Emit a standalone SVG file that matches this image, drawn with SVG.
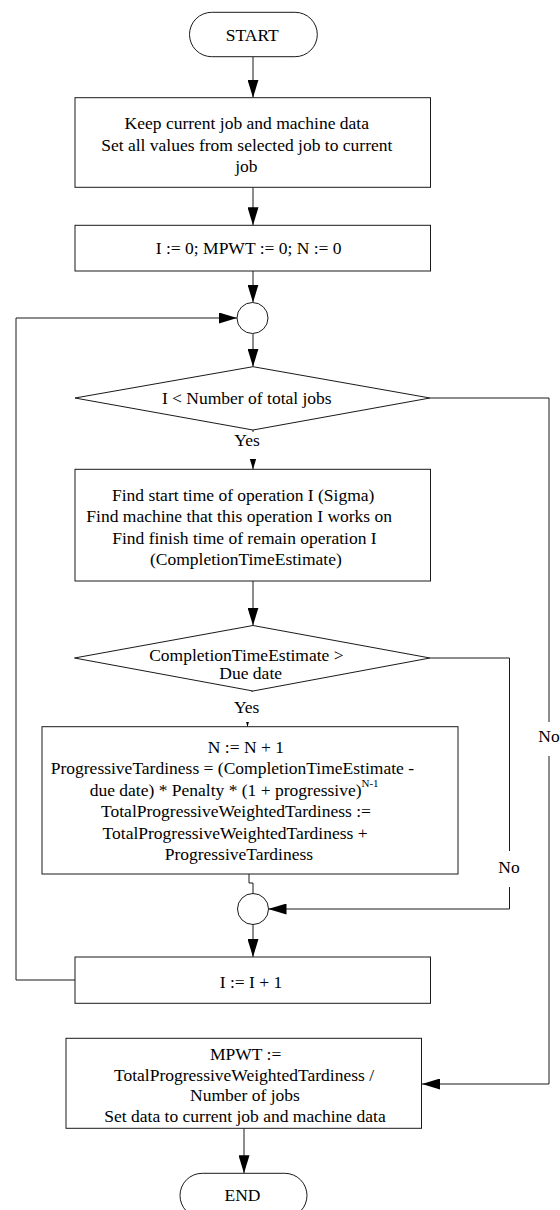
<svg xmlns="http://www.w3.org/2000/svg" width="560" height="1210" viewBox="0 0 560 1210">
<style>
.s{fill:#fff;stroke:#1a1a1a;stroke-width:1}
.c{fill:none;stroke:#1a1a1a;stroke-width:1}
.t{font-family:"Liberation Serif","Times New Roman",serif;font-size:17.5px;fill:#000;text-anchor:middle}
.ts{font-family:"Liberation Serif","Times New Roman",serif;font-size:17.5px;fill:#000}
.bg{fill:#fff;stroke:none}
</style>
<defs>
<marker id="arr" markerWidth="18" markerHeight="11" refX="18" refY="5.5" orient="auto" markerUnits="userSpaceOnUse">
<path d="M0,0 L18,5.5 L0,11 z" fill="#000"/>
</marker>
</defs>
<rect width="560" height="1210" fill="#fff"/>
<g id="connectors">
<path class="c" d="M253,56.7 V97.7" marker-end="url(#arr)"/>
<path class="c" d="M253,187.3 V225.3" marker-end="url(#arr)"/>
<path class="c" d="M253,271 V302.5" marker-end="url(#arr)"/>
<path class="c" d="M253,333.5 V366.7" marker-end="url(#arr)"/>
<path class="c" d="M253,430 V469.3" marker-end="url(#arr)"/>
<path class="c" d="M253,581 V625.5" marker-end="url(#arr)"/>
<path class="c" d="M252,691 V706 H247.5 V726.7" marker-end="url(#arr)"/>
<path class="c" d="M249,874 V883 H253 V893.5"/>
<path class="c" d="M253,924.5 V957" marker-end="url(#arr)"/>
<path class="c" d="M244,1128.3 V1173.3" marker-end="url(#arr)"/>
<path class="c" d="M430,398 H549 V1084 H422" marker-end="url(#arr)"/>
<path class="c" d="M430,658 H509.5 V909 H268.5" marker-end="url(#arr)"/>
<path class="c" d="M75,980 H16 V318 H237" marker-end="url(#arr)"/>
<rect class="bg" x="232" y="432" width="32" height="27"/>
<text class="t" x="247" y="446">Yes</text>
<rect class="bg" x="232" y="692" width="32" height="30"/>
<text class="t" x="246.7" y="712.5">Yes</text>
<rect class="bg" x="538" y="722" width="22" height="34"/>
<text class="t" x="549" y="742">No</text>
<rect class="bg" x="498" y="851" width="23" height="36"/>
<text class="t" x="509" y="873">No</text>
</g>
<g id="start">
<rect class="s" x="189.5" y="12.3" width="127.8" height="44.4" rx="22.2"/>
<text class="t" x="252.3" y="40.7">START</text>
</g>
<g id="keep">
<rect class="s" x="75" y="97.7" width="355.5" height="89.6"/>
<text class="t" x="246.8" y="129">Keep current job and machine data</text>
<text class="t" x="246.8" y="150.5">Set all values from selected job to current</text>
<text class="t" x="246.4" y="172">job</text>
</g>
<g id="init">
<rect class="s" x="75" y="225.3" width="355.5" height="45.7"/>
<text class="t" x="248.7" y="254">I := 0; MPWT := 0; N := 0</text>
</g>
<g id="merge1">
<circle class="s" cx="252.5" cy="318" r="15.5"/>
</g>
<g id="cond1">
<polygon class="s" points="253,366.7 430,398 253,430 75,398"/>
<text class="t" x="246.8" y="404">I &lt; Number of total jobs</text>
</g>
<g id="find">
<rect class="s" x="75" y="469.3" width="355.5" height="111.7"/>
<text class="t" x="243.2" y="500.5">Find start time of operation I (Sigma)</text>
<text class="t" x="239.2" y="522">Find machine that this operation I works on</text>
<text class="t" x="244.4" y="543.5">Find finish time of remain operation I</text>
<text class="t" x="245.9" y="565">(CompletionTimeEstimate)</text>
</g>
<g id="cond2">
<polygon class="s" points="253,625.5 430,658 253,691 74.5,658"/>
<text class="t" x="246.4" y="660.5">CompletionTimeEstimate &gt;</text>
<text class="t" x="250.7" y="679">Due date</text>
</g>
<g id="tardiness">
<rect class="s" x="42" y="726.7" width="416" height="147.3"/>
<text class="t" x="245.9" y="752.5">N := N + 1</text>
<text class="t" x="232.4" y="773.5">ProgressiveTardiness = (CompletionTimeEstimate -</text>
<text class="ts" x="89.7" y="795.5">due date) * Penalty * (1 + progressive)<tspan font-size="11px" dy="-9">N-1</tspan></text>
<text class="t" x="236" y="817">TotalProgressiveWeightedTardiness :=</text>
<text class="t" x="235.1" y="838.5">TotalProgressiveWeightedTardiness +</text>
<text class="t" x="238.9" y="860">ProgressiveTardiness</text>
</g>
<g id="merge2">
<circle class="s" cx="253" cy="909" r="15.5"/>
</g>
<g id="increment">
<rect class="s" x="75" y="957" width="355.5" height="46.3"/>
<text class="t" x="251" y="987.5">I := I + 1</text>
</g>
<g id="result">
<rect class="s" x="66" y="1038.3" width="355.5" height="90"/>
<text class="t" x="245.7" y="1060">MPWT :=</text>
<text class="t" x="244" y="1080.5">TotalProgressiveWeightedTardiness /</text>
<text class="t" x="245" y="1101">Number of jobs</text>
<text class="t" x="245" y="1121.5">Set data to current job and machine data</text>
</g>
<g id="end">
<rect class="s" x="180" y="1173.3" width="127" height="44.4" rx="22.2"/>
<text class="t" x="242.5" y="1201">END</text>
</g>
</svg>
